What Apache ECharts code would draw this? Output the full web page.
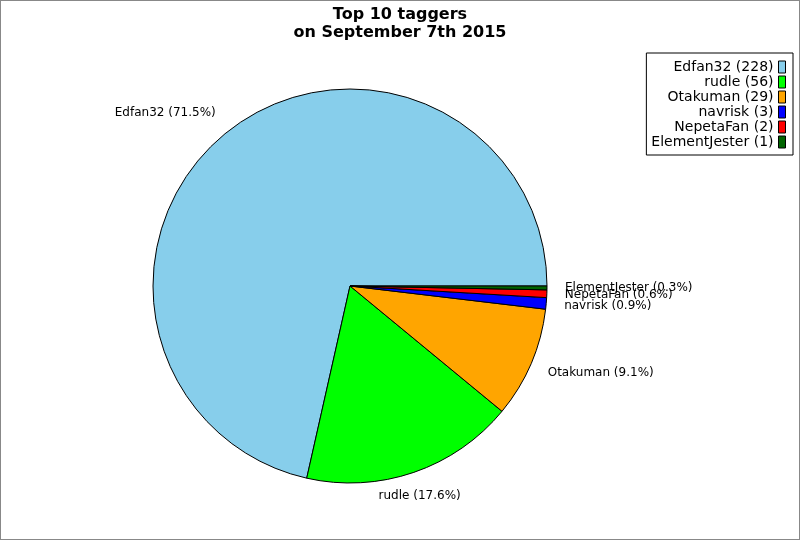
<!DOCTYPE html>
<html><head><meta charset="utf-8">
<script src="https://cdn.jsdelivr.net/npm/echarts@6/dist/echarts.min.js"></script>
<style>
html,body{margin:0;padding:0;background:#fff;}
#c{width:800px;height:540px;box-sizing:border-box;border:1px solid #888;}
</style></head><body>
<div id="c"></div>
<script>
const names = ["Edfan32", "rudle", "Otakuman", "navrisk", "NepetaFan", "ElementJester"];
const values = [228, 56, 29, 3, 2, 1];
const colors = ["#87ceeb", "#00ff00", "#ffa500", "#0000ff", "#ff0000", "#006400"];
const titleText = "Top 10 taggers\non September 7th 2015";

const total = values.reduce((a, b) => a + b, 0);
const CX = 349, CY = 285, R = 197, LL = 18;
const data = names.map((n, i) => ({ name: n, value: values[i], itemStyle: { color: colors[i] } }));
const chart = echarts.init(document.getElementById('c'), null, { renderer: 'canvas' });
chart.setOption({
  animation: false,
  backgroundColor: '#fff',
  title: {
    text: titleText, left: 'center', top: 0,
    textStyle: { fontFamily: 'DejaVu Sans', fontWeight: 'bold', fontSize: 16, color: '#000', lineHeight: 18 }
  },
  legend: {
    orient: 'vertical', right: 6, top: 52, align: 'right',
    itemWidth: 7, itemHeight: 12, itemGap: 1,
    padding: [7, 7, 6, 5],
    borderColor: '#000', borderWidth: 1, backgroundColor: '#fff',
    icon: 'rect',
    itemStyle: { borderColor: '#000', borderWidth: 1 },
    formatter: n => n + ' (' + values[names.indexOf(n)] + ')',
    textStyle: { fontFamily: 'DejaVu Sans', fontSize: 14, color: '#000', padding: [0, 0, 0, 0] },
    data: names
  },
  series: [{
    type: 'pie',
    center: [CX, CY],
    radius: R,
    startAngle: 0,
    clockwise: false,
    avoidLabelOverlap: false,
    itemStyle: { borderColor: '#000', borderWidth: 1 },
    label: {
      show: true, position: 'outside', distanceToLabelLine: 0,
      fontFamily: 'DejaVu Sans', fontSize: 12, color: '#000',
      formatter: p => p.name + ' (' + (p.value / total * 100).toFixed(1) + '%)'
    },
    labelLine: { show: false, length: LL, length2: 0 },
    labelLayout: function (p) {
      const r = p.labelRect;
      const right = p.align === 'right';
      const ax = right ? r.x + r.width : r.x;
      const ay = r.y + r.height / 2;
      const dist = Math.hypot(ax - CX, ay - CY) || 1;
      const c = (ax - CX) / dist, s = (ay - CY) / dist;
      const res = { hideOverlap: false, moveOverlap: null, y: ay + s * r.height * 0.6, verticalAlign: 'middle' };
      if (Math.abs(c) < 0.5) { res.x = ax; res.align = 'center'; }
      return res;
    },
    emphasis: { disabled: true },
    data: data
  }]
});
</script>
</body></html>
